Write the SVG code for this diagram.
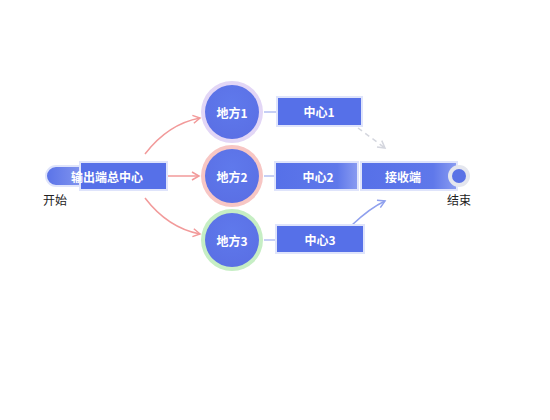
<svg xmlns="http://www.w3.org/2000/svg" width="550" height="420" viewBox="0 0 550 420">
<defs>
<linearGradient id="gBar" x1="0" y1="0" x2="1" y2="0">
<stop offset="0" stop-color="#5670e8"/><stop offset="0.75" stop-color="#5f78ea"/><stop offset="1" stop-color="#8a9cf1"/>
</linearGradient>
<linearGradient id="gPill" x1="0" y1="0" x2="1" y2="0">
<stop offset="0" stop-color="#5a73e8"/><stop offset="1" stop-color="#8a9cf0"/>
</linearGradient>
<radialGradient id="gCirc" cx="0.5" cy="0.35" r="0.7">
<stop offset="0" stop-color="#5f79ec"/><stop offset="1" stop-color="#5a6fe4"/>
</radialGradient>
<marker id="aRed" markerWidth="10" markerHeight="10" refX="8" refY="5" orient="auto" markerUnits="userSpaceOnUse"><path d="M1,1 L8,5 L1,9" fill="none" stroke="#f29a9a" stroke-width="1.5"/></marker>
<marker id="aGray" markerWidth="10" markerHeight="10" refX="8" refY="5" orient="auto" markerUnits="userSpaceOnUse"><path d="M1,1 L8,5 L1,9" fill="none" stroke="#d4d6de" stroke-width="1.5"/></marker>
<marker id="aBlue" markerWidth="10" markerHeight="10" refX="8" refY="5" orient="auto" markerUnits="userSpaceOnUse"><path d="M1,1 L8,5 L1,9" fill="none" stroke="#8fa0ee" stroke-width="1.5"/></marker>
</defs>
<style>
.bar{fill:url(#gBar);stroke:#dfe4fb;stroke-width:2}
.lbl{font-family:"Noto Sans CJK SC","Liberation Sans",sans-serif;font-size:12px;font-weight:bold;fill:#ffffff;text-anchor:middle;dominant-baseline:central}
.cap{font-family:"Noto Sans CJK SC","Liberation Sans",sans-serif;font-size:12px;fill:#222;text-anchor:middle;dominant-baseline:central}
.inner{fill:url(#gCirc)}
.link{fill:none;stroke:#c6cff5;stroke-width:2}
</style>
<g id="connectors">
<path d="M145,154 Q168,124 200,118" fill="none" stroke="#f29a9a" stroke-width="1.5" marker-end="url(#aRed)"/>
<path d="M167,176 L199,176" fill="none" stroke="#f29a9a" stroke-width="1.5" marker-end="url(#aRed)"/>
<path d="M145,198 Q168,228 200,234" fill="none" stroke="#f29a9a" stroke-width="1.5" marker-end="url(#aRed)"/>
<line x1="264" y1="112" x2="277" y2="112" class="link"/>
<line x1="264" y1="176" x2="275" y2="176" class="link"/>
<line x1="264" y1="240" x2="276" y2="240" class="link"/>
<path d="M358,128 L385,148" fill="none" stroke="#d4d6de" stroke-width="1.5" stroke-dasharray="5,4" marker-end="url(#aGray)"/>
<path d="M352,225 Q370,208 385,201" fill="none" stroke="#8fa0ee" stroke-width="1.5" marker-end="url(#aBlue)"/>
</g>
<g id="start">
<rect x="46" y="166" width="44" height="20" rx="10" fill="url(#gPill)" stroke="#dfe4fb" stroke-width="2"/>
<text x="55" y="199" class="cap">开始</text>
</g>
<g id="hub">
<rect x="80" y="162" width="87" height="28" class="bar" style="fill:#5670e8"/>
<text x="107" y="176" class="lbl">输出端总中心</text>
</g>
<g id="local1">
<circle cx="232" cy="112" r="31" fill="#e2d6f6"/>
<circle cx="232" cy="112" r="27" class="inner"/>
<text x="232" y="112" class="lbl">地方1</text>
</g>
<g id="local2">
<circle cx="232" cy="176" r="31" fill="#f7c6c4"/>
<circle cx="232" cy="176" r="27" class="inner"/>
<text x="232" y="176" class="lbl">地方2</text>
</g>
<g id="local3">
<circle cx="232" cy="240" r="31" fill="#c6eec4"/>
<circle cx="232" cy="240" r="27" class="inner"/>
<text x="232" y="240" class="lbl">地方3</text>
</g>
<g id="center1">
<rect x="277" y="97" width="85" height="29" class="bar" style="fill:#5670e8"/>
<text x="319" y="111" class="lbl">中心1</text>
</g>
<g id="center2">
<rect x="275" y="162" width="83" height="28" class="bar"/>
<text x="318" y="176" class="lbl">中心2</text>
</g>
<g id="center3">
<rect x="276" y="225" width="88" height="28" class="bar" style="fill:#5670e8"/>
<text x="320" y="239" class="lbl">中心3</text>
</g>
<g id="receiver">
<rect x="361" y="162" width="96" height="28" class="bar"/>
<text x="403" y="176" class="lbl">接收端</text>
</g>
<g id="end">
<circle cx="459" cy="176" r="11" fill="#e4e6ee"/>
<circle cx="459" cy="176" r="7" fill="#5a72e6"/>
<text x="459" y="199" class="cap">结束</text>
</g>
</svg>
